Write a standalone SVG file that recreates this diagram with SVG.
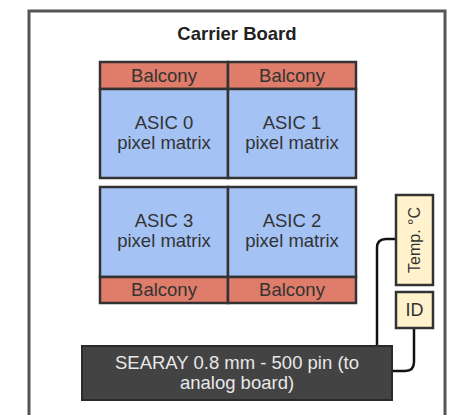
<svg xmlns="http://www.w3.org/2000/svg" width="449" height="415" viewBox="0 0 449 415">
<style>
text{font-family:"Liberation Sans",Arial,sans-serif;text-anchor:middle}
.bal{fill:#e07c6a;stroke:#333;stroke-width:2.5}
.asic{fill:#a4c2f4;stroke:#333;stroke-width:2.5}
.sens{fill:#fff2cc;stroke:#333;stroke-width:2.5}
.t{font-size:18.5px;fill:#333}
.wire{fill:none;stroke:#111;stroke-width:2.5}
</style>
<rect width="449" height="415" fill="#fff"/>
<g id="carrier-board">
<rect x="29" y="11" width="416" height="412" fill="#fff" stroke="#555" stroke-width="3"/>
<text x="237" y="40" style="font-size:18.5px;font-weight:bold;fill:#222">Carrier Board</text>
</g>
<g id="balcony-0"><rect class="bal" x="100" y="62" width="128" height="27"/><text class="t" x="164" y="82">Balcony</text></g>
<g id="balcony-1"><rect class="bal" x="228" y="62" width="128" height="27"/><text class="t" x="292" y="82">Balcony</text></g>
<g id="asic-0"><rect class="asic" x="100" y="89" width="128" height="89"/><text class="t" x="164" y="129">ASIC 0</text><text class="t" x="164" y="149">pixel matrix</text></g>
<g id="asic-1"><rect class="asic" x="228" y="89" width="128" height="89"/><text class="t" x="292" y="129">ASIC 1</text><text class="t" x="292" y="149">pixel matrix</text></g>
<g id="asic-3"><rect class="asic" x="100" y="187" width="128" height="90"/><text class="t" x="164" y="227">ASIC 3</text><text class="t" x="164" y="247">pixel matrix</text></g>
<g id="asic-2"><rect class="asic" x="228" y="187" width="128" height="90"/><text class="t" x="292" y="227">ASIC 2</text><text class="t" x="292" y="247">pixel matrix</text></g>
<g id="balcony-3"><rect class="bal" x="100" y="277" width="128" height="26"/><text class="t" x="164" y="296">Balcony</text></g>
<g id="balcony-2"><rect class="bal" x="228" y="277" width="128" height="26"/><text class="t" x="292" y="296">Balcony</text></g>
<g id="connectors">
<path class="wire" d="M396 239 H386 Q377 239 377 248 V346"/>
<path class="wire" d="M414 329 V362 Q414 371 405 371 H392"/>
</g>
<g id="temp"><rect class="sens" x="396" y="195" width="37" height="90"/><text class="t" transform="translate(420 240) rotate(-90)" x="0" y="0" style="font-size:16px">Temp. °C</text></g>
<g id="id"><rect class="sens" x="396" y="292" width="37" height="36"/><text class="t" x="414.5" y="316" style="font-size:18px">ID</text></g>
<g id="searay"><rect x="82" y="346" width="310" height="54" fill="#434343" stroke="#2a2a2a" stroke-width="2"/><text x="237" y="369" style="font-size:18.5px;fill:#e8e8e8">SEARAY 0.8 mm - 500 pin (to</text><text x="237" y="389" style="font-size:18.5px;fill:#e8e8e8">analog board)</text></g>
</svg>
